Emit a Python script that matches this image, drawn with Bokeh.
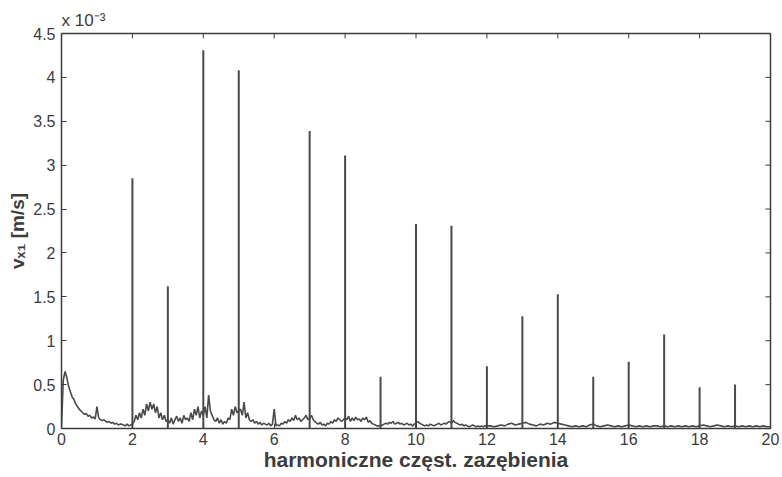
import numpy as np
from bokeh.plotting import figure
from bokeh.models import FixedTicker, NumeralTickFormatter
from bokeh.embed import file_html
from bokeh.resources import INLINE

# Harmonic peaks (amplitude in 1e-3 m/s)
harmonics = [2, 3, 4, 5, 7, 8, 9, 10, 11, 12, 13, 14, 15, 16, 17, 18, 19]
peak_vals = [2.85, 1.62, 4.31, 4.08, 3.39, 3.11, 0.59, 2.33, 2.31, 0.71, 1.28, 1.53, 0.59, 0.76, 1.07, 0.47, 0.50]

# Noise floor, step 0.05 from 0 to 12
floor_a_x = np.round(np.arange(0, 12.001, 0.05), 2)
floor_a_y = [
    0.02, 0.55, 0.65, 0.58, 0.48, 0.42, 0.36, 0.33, 0.28, 0.25, 0.22, 0.2, 0.18, 0.16, 0.17, 0.14, 0.15, 0.12, 0.13, 0.11, 0.25,
    0.12, 0.1, 0.09, 0.1, 0.08, 0.07, 0.08, 0.06, 0.07, 0.05, 0.06, 0.04, 0.05, 0.05, 0.04, 0.03, 0.05, 0.03, 0.04, 0.05,
    0.08, 0.15, 0.1, 0.18, 0.12, 0.22, 0.15, 0.28, 0.2, 0.3, 0.22, 0.28, 0.18, 0.25, 0.12, 0.18, 0.1, 0.15, 0.08, 0.1,
    0.06, 0.12, 0.05, 0.1, 0.14, 0.08, 0.12, 0.06, 0.15, 0.1, 0.12, 0.08, 0.18, 0.1, 0.22, 0.15, 0.25, 0.12, 0.2, 0.15,
    0.25, 0.12, 0.38, 0.2, 0.15, 0.1, 0.08, 0.12, 0.06, 0.1, 0.05, 0.08, 0.06, 0.12, 0.1, 0.22, 0.15, 0.25, 0.18, 0.2,
    0.22, 0.15, 0.3, 0.12, 0.18, 0.1, 0.08, 0.1, 0.06, 0.08, 0.05, 0.07, 0.04, 0.06, 0.05, 0.04, 0.06, 0.03, 0.05, 0.22,
    0.03, 0.04, 0.03, 0.06, 0.05, 0.08, 0.06, 0.1, 0.08, 0.12, 0.09, 0.15, 0.1, 0.12, 0.08, 0.1, 0.12, 0.15, 0.1, 0.12,
    0.15, 0.1, 0.08, 0.06, 0.05, 0.07, 0.04, 0.05, 0.03, 0.06, 0.05, 0.08, 0.06, 0.1, 0.08, 0.12, 0.1, 0.08, 0.1, 0.12,
    0.1, 0.14, 0.08, 0.12, 0.09, 0.13, 0.1, 0.11, 0.08, 0.12, 0.1, 0.13, 0.07, 0.09, 0.06, 0.05, 0.04, 0.03, 0.03, 0.03,
    0.04, 0.05, 0.06, 0.05, 0.07, 0.06, 0.08, 0.05, 0.06, 0.07, 0.05, 0.06, 0.04, 0.05, 0.06, 0.04, 0.05, 0.03, 0.05, 0.06,
    0.08, 0.06, 0.05, 0.04, 0.03, 0.04, 0.03, 0.05, 0.04, 0.03, 0.04, 0.05, 0.06, 0.04, 0.05, 0.06, 0.05, 0.07, 0.08, 0.06,
    0.09, 0.07, 0.06, 0.05, 0.04, 0.05, 0.03, 0.04, 0.03, 0.02, 0.03, 0.04, 0.03, 0.02, 0.03, 0.02, 0.03, 0.02, 0.03, 0.03,
]
# Noise floor, step 0.1 from 12.1 to 20
floor_b_x = np.round(np.arange(12.1, 20.001, 0.1), 2)
floor_b_y = [
    0.03, 0.02, 0.03, 0.04, 0.03, 0.05, 0.06, 0.04, 0.05, 0.06,
    0.07, 0.05, 0.04, 0.03, 0.05, 0.04, 0.06, 0.05, 0.07, 0.06,
    0.05, 0.04, 0.03, 0.02, 0.03, 0.02, 0.03, 0.02, 0.04, 0.05,
    0.03, 0.02, 0.03, 0.04, 0.03, 0.02, 0.03, 0.02, 0.03, 0.04,
    0.03, 0.02, 0.03, 0.02, 0.03, 0.02, 0.03, 0.03, 0.02, 0.03,
    0.02, 0.03, 0.02, 0.03, 0.02, 0.03, 0.02, 0.03, 0.02, 0.03,
    0.04, 0.03, 0.02, 0.03, 0.04, 0.03, 0.02, 0.03, 0.02, 0.03,
    0.02, 0.03, 0.02, 0.03, 0.02, 0.03, 0.02, 0.03, 0.02, 0.02,
]

x_ticks = [0, 2, 4, 6, 8, 10, 12, 14, 16, 18, 20]
y_ticks = [0, 0.5, 1, 1.5, 2, 2.5, 3, 3.5, 4, 4.5]

INK = "#3c3c3c"
LINE = "#4a4a4a"
FONT = "Liberation Sans"

p = figure(width=782, height=477, x_range=(0, 20), y_range=(0, 4.5),
           output_backend="svg", toolbar_location=None,
           min_border_left=61, min_border_right=12, min_border_top=33, min_border_bottom=49,
           title="x 10⁻³",
           x_axis_label="harmoniczne częst. zazębienia", y_axis_label="vₓ₁ [m/s]")
p.grid.visible = False
p.outline_line_color = INK
p.outline_line_width = 1.5
p.background_fill_color = "white"
p.border_fill_color = "white"

p.title.align = "left"
p.title.text_font = FONT
p.title.text_font_style = "normal"
p.title.text_font_size = "17px"
p.title.text_color = INK
p.title.offset = 0
p.title.standoff = 8

fx = list(floor_a_x) + list(floor_b_x)
fy = list(floor_a_y) + list(floor_b_y)
p.line(fx, fy, line_color=LINE, line_width=1.6)
p.segment(x0=harmonics, y0=[0] * len(harmonics), x1=harmonics, y1=peak_vals,
          line_color=LINE, line_width=2)

# inward ticks on top and right edges of the box
p.ray(x=x_ticks, y=[4.5] * len(x_ticks), length=5, angle=-np.pi / 2,
      length_units="screen", line_color=INK, line_width=1)
p.ray(x=[20] * len(y_ticks), y=y_ticks, length=5, angle=np.pi,
      length_units="screen", line_color=INK, line_width=1)

for ax in (p.xaxis[0], p.yaxis[0]):
    ax.major_tick_in = 5
    ax.major_tick_out = 0
    ax.minor_tick_in = 0
    ax.minor_tick_out = 0
    ax.axis_line_color = INK
    ax.major_tick_line_color = INK
    ax.major_label_text_color = INK
    ax.major_label_text_font = FONT
    ax.major_label_text_font_size = "16px"
    ax.axis_label_text_font = FONT
    ax.axis_label_text_font_style = "bold"
    ax.axis_label_text_color = INK

p.xaxis.ticker = FixedTicker(ticks=x_ticks)
p.yaxis.ticker = FixedTicker(ticks=y_ticks)
p.yaxis.formatter = NumeralTickFormatter(format="0.[0]")
p.xaxis.major_label_standoff = 4
p.yaxis.major_label_standoff = 6
p.xaxis.axis_label_text_font_size = "21px"
p.xaxis.axis_label_standoff = 0
p.yaxis.axis_label_text_font_size = "19px"
p.yaxis.axis_label_standoff = 2

open("out.html", "w").write(file_html(p, INLINE))
